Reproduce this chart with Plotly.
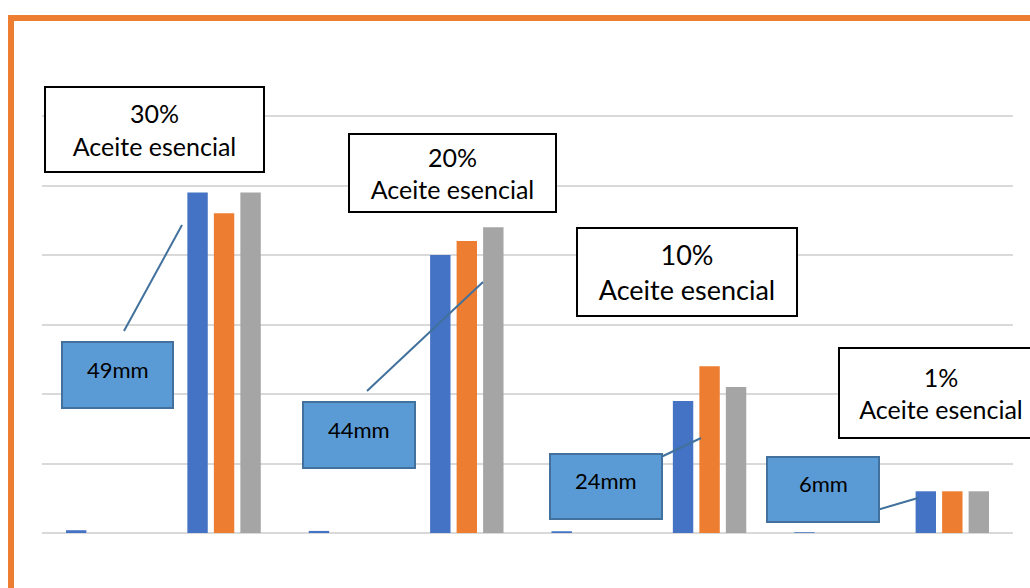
import plotly.graph_objects as go

# ---------------- data ----------------
categories = ["A", "B", "C", "D", "E", "F", "G", "H"]
series_names = ["Serie 1", "Serie 2", "Serie 3"]
serie1 = [0.4, 49, 0.3, 40, 0.15, 19, 0.05, 6]
serie2 = [0, 46, 0, 42, 0, 24, 0, 6]
serie3 = [0, 49, 0, 44, 0, 21, 0, 6]
concentration_labels = ["30%<br>Aceite esencial", "20%<br>Aceite esencial",
                        "10%<br>Aceite esencial", "1%<br>Aceite esencial"]
halo_labels = ["49mm", "44mm", "24mm", "6mm"]

# ---------------- layout helpers ----------------
W, H = 1030, 588
def px(x):
    return x / W
def py(y):
    return 1 - y / H

colors = ["#4472C4", "#ED7D31", "#A5A5A5"]

fig = go.Figure()
for name, vals, c in zip(series_names, [serie1, serie2, serie3], colors):
    fig.add_trace(go.Bar(x=categories, y=vals, name=name, marker_color=c,
                         marker_line_width=0))

# white concentration boxes: (center x, center y, width, height, font size)
conc_boxes = [(154.5, 129.5, 221, 87, 25), (452, 173, 209, 80, 25),
              (687, 272, 222, 90, 27), (941, 393, 206, 92, 25)]
# blue halo boxes: (x0, y0, x1, y1) pixel edges
halo_boxes = [(62, 342, 173, 408), (303, 402, 415, 468),
              (550, 454, 662, 519), (767, 457, 879, 522)]
# callout lines (pixel endpoints)
callouts = [((124, 331), (182, 225)), ((367, 391), (483, 282)),
            ((661, 457), (701, 438)), ((877, 510), (918, 498))]

annotations = []
for txt, (cx, cy, bw, bh, fs) in zip(concentration_labels, conc_boxes):
    annotations.append(dict(
        text=txt, x=px(cx), y=py(cy), xref="paper", yref="paper",
        xanchor="center", yanchor="middle", showarrow=False,
        width=bw - 4, height=bh - 4, borderpad=0, borderwidth=2,
        bordercolor="#000000", bgcolor="#FFFFFF", align="center",
        font=dict(family="Lato, Carlito, sans-serif", size=fs, color="#000000")))

shapes = [dict(type="rect", xref="paper", yref="paper", layer="below",
               x0=px(11), y0=py(18), x1=px(1100), y1=py(700),
               line=dict(color="#ED7D31", width=6), fillcolor="rgba(0,0,0,0)")]
for (a, b) in callouts:
    shapes.append(dict(type="line", xref="paper", yref="paper",
                       x0=px(a[0]), y0=py(a[1]), x1=px(b[0]), y1=py(b[1]),
                       line=dict(color="#41719C", width=2)))
for txt, (x0, y0, x1, y1) in zip(halo_labels, halo_boxes):
    shapes.append(dict(type="rect", xref="paper", yref="paper", layer="above",
                       x0=px(x0), y0=py(y0), x1=px(x1), y1=py(y1),
                       line=dict(color="#41719C", width=2), fillcolor="#5B9BD5"))
    annotations.append(dict(
        text=txt, x=px((x0 + x1) / 2), y=py((y0 + y1) / 2 - 6),
        xref="paper", yref="paper", xanchor="center", yanchor="middle",
        showarrow=False, align="center",
        font=dict(family="Lato, Carlito, sans-serif", size=22, color="#000000")))

fig.update_layout(
    width=W, height=H, margin=dict(l=0, r=0, t=0, b=0),
    paper_bgcolor="#FFFFFF", plot_bgcolor="#FFFFFF",
    showlegend=False, barmode="group", bargap=0.345, bargroupgap=0.23,
    annotations=annotations, shapes=shapes,
    xaxis=dict(type="category", range=[-0.5, 7.5], domain=[px(42), px(1013)],
               showticklabels=False, showgrid=False, zeroline=False, showline=False,
               ticks=""),
    yaxis=dict(range=[0, 65], domain=[py(533), py(81.25)], dtick=10,
               showticklabels=False, showgrid=True, gridcolor="#D9D9D9", gridwidth=1.5,
               zeroline=True, zerolinecolor="#D9D9D9", zerolinewidth=2,
               showline=False, ticks=""),
)

fig.write_html("out.html")
